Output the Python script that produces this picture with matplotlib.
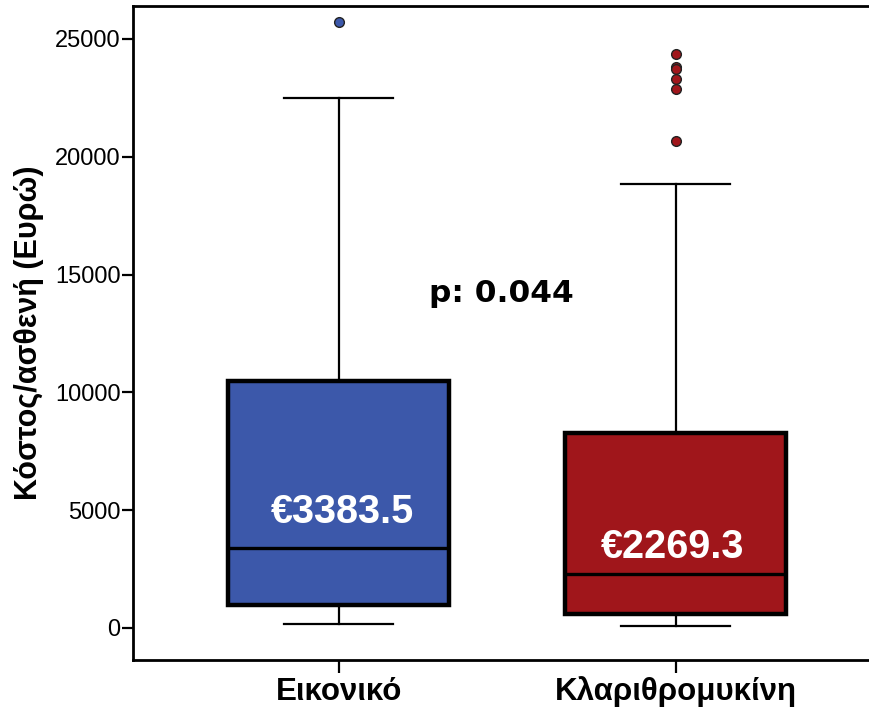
import matplotlib.pyplot as plt

# cost per patient summary (EUR)
groups = ['Εικονικό', 'Κλαριθρομυκίνη']
medians = [3383.5, 2269.3]
q1 = [980, 600]
q3 = [10480, 8280]
whisk_lo = [170, 90]
whisk_hi = [22480, 18850]
outliers = [[25720], [24350, 23810, 23710, 23290, 22870, 20680]]
p_value = '0.044'

box_colors = ['#3c58aa', '#a0161b']

plt.rcParams['font.family'] = ['Liberation Sans', 'DejaVu Sans']

fig = plt.figure(figsize=(8.69, 7.08), dpi=100)
ax = fig.add_axes([0.153, 0.068, 0.857, 0.9235])

stats = []
for i, name in enumerate(groups):
    stats.append(dict(label=name, med=medians[i], q1=q1[i], q3=q3[i],
                      whislo=whisk_lo[i], whishi=whisk_hi[i], fliers=outliers[i]))

positions = [1, 2]
for i, st in enumerate(stats):
    ax.bxp([st], positions=[positions[i]], widths=0.657, capwidths=0.325,
           patch_artist=True, showfliers=True,
           boxprops=dict(facecolor=box_colors[i], edgecolor='black', linewidth=3.2),
           medianprops=dict(color='black', linewidth=2.4),
           whiskerprops=dict(color='black', linewidth=1.6),
           capprops=dict(color='black', linewidth=1.6),
           flierprops=dict(marker='o', markersize=7, markerfacecolor=box_colors[i],
                           markeredgecolor='#222222', markeredgewidth=1.0))

ax.set_xlim(0.389, 2.6)
ax.set_ylim(-1360, 26400)
ax.set_yticks([0, 5000, 10000, 15000, 20000, 25000])
ax.set_xticks(positions)
ax.set_xticklabels(groups, fontsize=22.5, fontweight='bold')
ax.tick_params(axis='y', labelsize=17, length=8, width=1.6, pad=1)
ax.tick_params(axis='x', length=9, width=1.6, pad=3)
ax.set_ylabel('Κόστος/ασθενή (Ευρώ)', fontsize=22, fontweight='bold', labelpad=8)

for side in ['left', 'bottom', 'top']:
    ax.spines[side].set_linewidth(2)
ax.spines['right'].set_visible(False)

# median values written inside the boxes
ax.text(1.01, 4920, '€' + str(medians[0]), color='white', fontsize=28.5,
        fontweight='bold', ha='center', va='center')
ax.text(1.99, 3440, '€' + str(medians[1]), color='white', fontsize=28.5,
        fontweight='bold', ha='center', va='center')

ax.text(1.484, 14200, 'p: ' + p_value, fontsize=22.5, fontweight='bold',
        family='DejaVu Sans', ha='center', va='center')

fig.savefig('out.png', dpi=100)
